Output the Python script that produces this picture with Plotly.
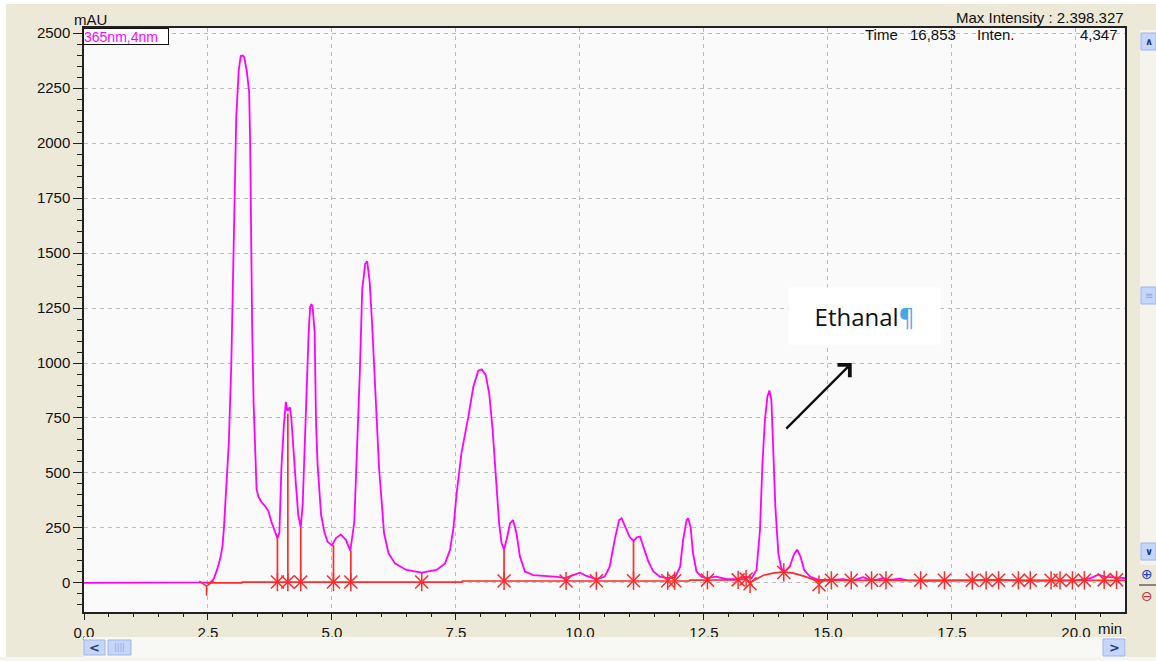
import plotly.graph_objects as go

# ------------------------------------------------------------------ data
signal_time = [0.00, 2.45, 2.55, 2.62, 2.69, 2.75, 2.79, 2.82, 2.85, 2.92, 2.97, 3.00, 3.04, 3.07,
               3.12, 3.16, 3.20, 3.23, 3.28, 3.33, 3.35, 3.37, 3.39, 3.42, 3.45, 3.48, 3.52, 3.58,
               3.65, 3.72, 3.78, 3.85, 3.90, 3.94, 3.98, 4.03, 4.07, 4.10, 4.15, 4.18, 4.22, 4.27,
               4.32, 4.37, 4.41, 4.46, 4.49, 4.53, 4.56, 4.585, 4.61, 4.65, 4.68, 4.71, 4.78, 4.85,
               4.91, 5.00, 5.08, 5.18, 5.28, 5.37, 5.45, 5.51, 5.56, 5.61, 5.67, 5.71, 5.76, 5.81,
               5.86, 5.91, 5.95, 6.00, 6.05, 6.14, 6.27, 6.50, 6.81, 7.11, 7.28, 7.38, 7.45, 7.51,
               7.61, 7.75, 7.85, 7.95, 8.02, 8.10, 8.17, 8.24, 8.31, 8.37, 8.42, 8.47, 8.52, 8.59,
               8.65, 8.72, 8.79, 8.89, 9.06, 9.33, 9.55, 9.70, 9.85, 10.00, 10.13, 10.34, 10.50,
               10.60, 10.70, 10.79, 10.84, 10.91, 11.00, 11.08, 11.15, 11.21, 11.28, 11.38, 11.48,
               11.61, 11.77, 11.92, 12.02, 12.08, 12.15, 12.18, 12.23, 12.28, 12.35, 12.45, 12.55,
               12.75, 12.95, 13.19, 13.33, 13.46, 13.56, 13.63, 13.68, 13.73, 13.78, 13.82, 13.86,
               13.90, 13.94, 14.00, 14.06, 14.13, 14.23, 14.31, 14.38, 14.45, 14.52, 14.64, 14.80,
               15.07, 15.31, 15.48, 15.71, 15.85, 16.00, 16.10, 16.25, 16.45, 16.60, 17.00, 17.50,
               17.90, 18.20, 18.50, 19.00, 19.50, 20.00, 20.30, 20.45, 20.60, 20.80, 21.00]
signal_mau = [0, 0, 3, 20, 65, 115, 163, 245, 375, 636, 994, 1320, 1777, 2119,
              2331, 2396, 2398, 2390, 2331, 2233, 2005, 1532, 1174, 815, 570, 424, 391, 367,
              350, 326, 277, 228, 204, 228, 522, 717, 823, 782, 799, 750, 603, 456,
              310, 253, 359, 685, 978, 1141, 1255, 1268, 1255, 1141, 717, 538, 310, 228,
              187, 171, 204, 220, 196, 147, 277, 603, 945, 1336, 1451, 1462, 1369, 1174,
              913, 685, 520, 377, 226, 135, 89, 59, 47, 59, 89, 150, 250, 400,
              589, 756, 892, 965, 971, 945, 862, 695, 483, 271, 180, 153, 195, 271,
              286, 226, 120, 52, 36, 32, 28, 22, 34, 47, 32, 17, 29,
              74, 196, 286, 294, 256, 210, 191, 208, 211, 165, 97, 52,
              29, 22, 26, 74, 196, 286, 294, 256, 135, 52, 29, 22,
              29, 17, 17, 29, 22, 59, 241, 544, 741, 847, 875, 832,
              620, 347, 135, 66, 52, 74, 127, 152, 118, 59, 29, 14,
              14, 17, 10, 26, 14, 15, 22, 14, 20, 12, 10, 10,
              12, 14, 14, 10, 10, 12, 22, 38, 28, 25, 22]

baseline_time = [2.47, 3.18, 3.19, 7.62, 7.63, 12.20, 12.22, 13.19, 13.35, 13.43, 13.70, 13.90,
                 14.10, 14.30, 14.50, 14.80, 15.07, 21.00]
baseline_mau = [0, 0, 4, 4, 9, 9, 13, 14, 18, 2, 35, 45, 50, 45, 32, 8, 12, 12]

drop_time = [3.90, 4.11, 4.37, 5.03, 5.38, 8.47, 11.08]
drop_base = [4, 4, 4, 4, 4, 9, 12]
drop_top = [204, 770, 253, 172, 147, 153, 191]

marker_time = [3.90, 4.11, 4.37, 5.03, 5.38, 6.81, 8.47, 9.72, 10.33, 11.08, 11.77, 11.91,
               12.57, 13.19, 13.35, 13.43, 14.11, 14.82, 15.07, 15.47, 15.88, 16.17, 16.87,
               17.35, 17.91, 18.19, 18.44, 18.84, 19.08, 19.50, 19.68, 19.93, 20.17, 20.57, 20.82]
marker_mau = [4, 4, 4, 4, 4, 4, 9, 9, 10, 10, 10, 10,
              13, 14, 18, -4, 48, -8, 12, 12, 12, 12, 12,
              12, 12, 12, 12, 12, 12, 12, 12, 12, 12, 14, 14]

start_marker_time = [2.47]
start_marker_mau = [-14]

x_tick_vals = [0, 2.5, 5, 7.5, 10, 12.5, 15, 17.5, 20]
x_tick_text = ["0,0", "2,5", "5,0", "7,5", "10,0", "12,5", "15,0", "17,5", "20,0"]
y_tick_vals = [0, 250, 500, 750, 1000, 1250, 1500, 1750, 2000, 2250, 2500]
y_tick_text = ["0", "250", "500", "750", "1000", "1250", "1500", "1750", "2000", "2250", "2500"]

# ------------------------------------------------------------------ geometry helpers
W, H = 1156, 661
L, R, T, B = 84, 1125, 28, 612
FONT = "Liberation Sans, Arial, sans-serif"
MAGENTA = "#FF00FF"
RED = "#FF2A2A"


def pxx(px):
    return (px - L) / (R - L)


def pxy(py):
    return (B - py) / (B - T)


fig = go.Figure()

# signal
fig.add_trace(go.Scatter(x=signal_time, y=signal_mau, mode="lines",
                         line=dict(color=MAGENTA, width=1.8), hoverinfo="skip"))

# integration baseline
fig.add_trace(go.Scatter(x=baseline_time, y=baseline_mau, mode="lines",
                         line=dict(color=RED, width=1.7), hoverinfo="skip"))

# drop lines
dx, dy = [], []
for t, b, top in zip(drop_time, drop_base, drop_top):
    dx += [t, t, None]
    dy += [b, top, None]
fig.add_trace(go.Scatter(x=dx, y=dy, mode="lines", line=dict(color=RED, width=1.7),
                         hoverinfo="skip"))

# asterisk markers (X + vertical bar = 6-arm asterisk)
for sym in ["x-thin-open", "line-ns-open"]:
    fig.add_trace(go.Scatter(x=marker_time, y=marker_mau, mode="markers",
                             marker=dict(symbol=sym, size=13, color=RED,
                                         line=dict(width=1.5, color=RED)),
                             hoverinfo="skip"))
fig.add_trace(go.Scatter(x=start_marker_time, y=start_marker_mau, mode="markers",
                         marker=dict(symbol="y-down-open", size=12, color=RED,
                                     line=dict(width=1.5, color=RED)),
                         hoverinfo="skip"))

shapes = []
annotations = []

# window chrome: white strips
shapes.append(dict(type="rect", xref="paper", yref="paper", x0=pxx(0), x1=pxx(W),
                   y0=pxy(0), y1=pxy(4), fillcolor="#FFFFFF", line=dict(width=0)))
shapes.append(dict(type="rect", xref="paper", yref="paper", x0=pxx(0), x1=pxx(6),
                   y0=pxy(0), y1=pxy(H), fillcolor="#FFFFFF", line=dict(width=0)))
shapes.append(dict(type="rect", xref="paper", yref="paper", x0=pxx(0), x1=pxx(W),
                   y0=pxy(657), y1=pxy(H), fillcolor="#F6F5F0", line=dict(width=0)))
# horizontal scrollbar track
shapes.append(dict(type="rect", xref="paper", yref="paper", x0=pxx(84), x1=pxx(1126),
                   y0=pxy(637), y1=pxy(657), fillcolor="#F8F8F5", line=dict(width=0)))
# vertical scrollbar track
shapes.append(dict(type="rect", xref="paper", yref="paper", x0=pxx(1140), x1=pxx(W),
                   y0=pxy(30), y1=pxy(565), fillcolor="#F4F3EC", line=dict(width=0)))

BTN_FILL = "#C5D6FA"
BTN_LINE = "#9DB5E6"
GLYPH = "#1E3C80"


def button(x0, y0, x1, y1, glyph, gcolor=GLYPH, size=13):
    shapes.append(dict(type="rect", xref="paper", yref="paper", x0=pxx(x0), x1=pxx(x1),
                       y0=pxy(y0), y1=pxy(y1), fillcolor=BTN_FILL,
                       line=dict(color=BTN_LINE, width=1)))
    if glyph:
        annotations.append(dict(xref="paper", yref="paper", x=pxx((x0 + x1) / 2),
                                y=pxy((y0 + y1) / 2), text=glyph, showarrow=False,
                                xanchor="center", yanchor="middle",
                                font=dict(family="DejaVu Sans", size=size, color=gcolor)))


button(84, 640, 105, 655, "<b>&lt;</b>")
button(108, 640, 131, 655, "||||", gcolor="#8EA8DE", size=8)
button(1103, 639, 1125, 656, "<b>&gt;</b>")
button(1141, 33, 1156, 50, "<b>∧</b>", size=10)
button(1141, 287, 1156, 304, "≡", gcolor="#8EA8DE", size=10)
button(1141, 543, 1156, 560, "<b>∨</b>", size=10)
annotations.append(dict(xref="paper", yref="paper", x=pxx(1147), y=pxy(574), text="⊕",
                        showarrow=False, xanchor="center", yanchor="middle",
                        font=dict(family="DejaVu Sans", size=14, color="#2040C0")))
annotations.append(dict(xref="paper", yref="paper", x=pxx(1147), y=pxy(596), text="⊖",
                        showarrow=False, xanchor="center", yanchor="middle",
                        font=dict(family="DejaVu Sans", size=14, color="#C03040")))
shapes.append(dict(type="line", xref="paper", yref="paper", x0=pxx(1139), x1=pxx(W),
                   y0=pxy(585), y1=pxy(585), line=dict(color="#222222", width=1)))

# texts
annotations.append(dict(xref="paper", yref="paper", x=pxx(90), y=pxy(20), text="mAU",
                        showarrow=False, xanchor="center", yanchor="middle",
                        font=dict(family=FONT, size=15, color="#111111")))
annotations.append(dict(xref="paper", yref="paper", x=pxx(83), y=pxy(28), text="365nm,4nm",
                        showarrow=False, xanchor="left", yanchor="top", align="left",
                        width=84, height=15, borderpad=0, borderwidth=1,
                        bordercolor="#111111", bgcolor="#FFFFFF",
                        font=dict(family=FONT, size=14, color=MAGENTA)))
annotations.append(dict(xref="paper", yref="paper", x=pxx(1126), y=pxy(17),
                        text="Max Intensity : 2.398.327", showarrow=False,
                        xanchor="right", yanchor="middle",
                        font=dict(family=FONT, size=15, color="#111111")))
for txt, cx, anchor in [("Time", 863, "left"), ("16,853", 908, "left"),
                        ("Inten.", 975, "left"), ("4,347", 1120, "right")]:
    annotations.append(dict(xref="paper", yref="paper", x=pxx(cx), y=pxy(35), text=txt,
                            showarrow=False, xanchor=anchor, yanchor="middle",
                            font=dict(family=FONT, size=15, color="#111111")))
annotations.append(dict(xref="paper", yref="paper", x=pxx(1124), y=pxy(628), text="min",
                        showarrow=False, xanchor="right", yanchor="middle",
                        font=dict(family=FONT, size=15, color="#111111")))

# Ethanal label + arrow
annotations.append(dict(xref="paper", yref="paper", x=pxx(864.5), y=pxy(316),
                        text="Ethanal<span style='color:#4BA6E8'>¶</span>",
                        showarrow=False, xanchor="center", yanchor="middle",
                        width=151, height=56, borderpad=0, bgcolor="#FFFFFF",
                        font=dict(family="Open Sans, sans-serif", size=24, color="#111111")))
annotations.append(dict(x=15.48, y=1000, xref="x", yref="y", ax=14.13, ay=695,
                        axref="x", ayref="y", text="", showarrow=True,
                        arrowhead=4, arrowsize=1.4, arrowwidth=2.4, arrowcolor="#111111",
                        standoff=0))

fig.update_layout(
    width=W, height=H,
    margin=dict(l=L, r=W - R, t=T, b=H - B, pad=0),
    paper_bgcolor="#ECE9D8",
    plot_bgcolor="#FAFAFA",
    showlegend=False,
    shapes=shapes,
    annotations=annotations,
    font=dict(family=FONT, size=15, color="#111111"),
)

fig.update_xaxes(
    range=[0, 20.99], tickvals=x_tick_vals, ticktext=x_tick_text,
    showgrid=True, gridcolor="#BDBDBD", griddash="4px,4px", gridwidth=1,
    zeroline=False, showline=True, linecolor="#222222", linewidth=1.5, mirror=True,
    ticks="outside", ticklen=6, tickwidth=1.2, tickcolor="#222222",
    tickfont=dict(family=FONT, size=15, color="#111111"),
    minor=dict(dtick=0.5, tick0=0, ticks="outside", ticklen=3, tickcolor="#222222",
               showgrid=False),
)
fig.update_yaxes(
    range=[-132, 2523], tickvals=y_tick_vals, ticktext=y_tick_text,
    showgrid=True, gridcolor="#BDBDBD", griddash="4px,4px", gridwidth=1,
    zeroline=False, showline=True, linecolor="#222222", linewidth=1.5, mirror=True,
    ticks="outside", ticklen=9, tickwidth=1.2, tickcolor="#222222",
    tickfont=dict(family=FONT, size=15, color="#111111"),
    minor=dict(dtick=50, tick0=0, ticks="outside", ticklen=5, tickcolor="#222222",
               showgrid=False),
)

fig.write_html("out.html",
               config={"displayModeBar": False},
               post_script="document.body.style.margin='0';"
                           "document.body.style.overflow='hidden';")
